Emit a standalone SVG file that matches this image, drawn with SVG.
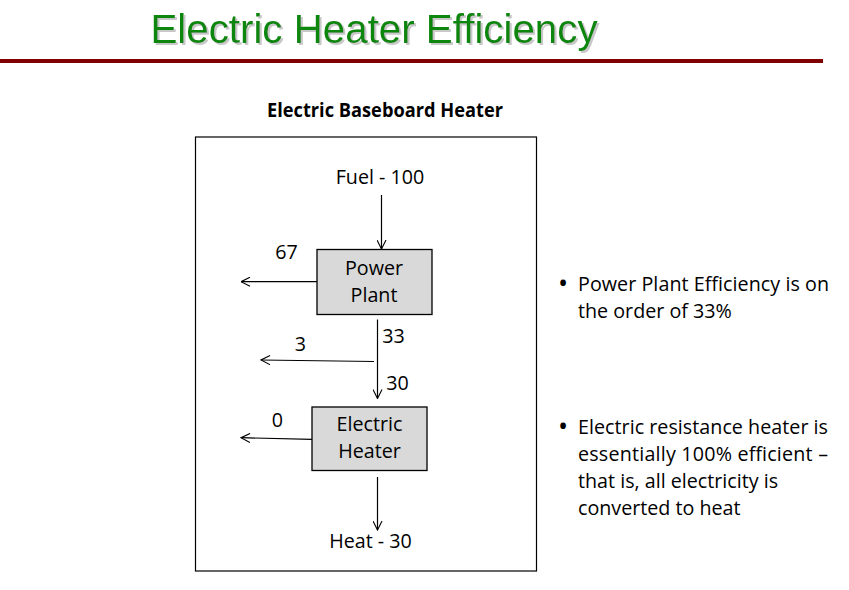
<svg xmlns="http://www.w3.org/2000/svg" width="849" height="590" viewBox="0 0 849 590">
  <style>
    .t { font-family: "Open Sans", "Noto Sans", sans-serif; font-size: 19.7px; fill: #000; }
    .c { text-anchor: middle; }
    .b { font-size: 27px; }
    .node rect { fill: #d9d9d9; stroke: #000; stroke-width: 1.3; }
    .conn line { stroke: #000; stroke-width: 1.2; marker-end: url(#arr); }
    .title { font-family: "Liberation Sans", Arial, sans-serif; font-size: 40.3px; text-anchor: middle; }
  </style>
  <defs>
    <marker id="arr" viewBox="0 0 10 10" refX="9.5" refY="5" markerWidth="10" markerHeight="10" markerUnits="userSpaceOnUse" orient="auto">
      <path d="M0.5,0.5 L9.5,5 L0.5,9.5" fill="none" stroke="#000" stroke-width="1.1"/>
    </marker>
    <filter id="shadow" x="-5%" y="-20%" width="110%" height="150%">
      <feOffset in="SourceAlpha" dx="2" dy="2" result="off"/>
      <feFlood flood-color="#c8c8c8"/>
      <feComposite in2="off" operator="in" result="sh"/>
      <feMerge>
        <feMergeNode in="sh"/>
        <feMergeNode in="SourceGraphic"/>
      </feMerge>
    </filter>
  </defs>
  <rect width="849" height="590" fill="#fff"/>

  <g id="title">
    <text class="title" x="374" y="43" fill="#0a860a" filter="url(#shadow)">Electric Heater Efficiency</text>
    <rect x="0" y="59" width="823" height="4" fill="#800000"/>
  </g>

  <g id="frame">
    <text class="t c" x="385" y="117" font-weight="bold" font-size="19" textLength="236" lengthAdjust="spacingAndGlyphs">Electric Baseboard Heater</text>
    <rect x="195.5" y="137" width="341" height="434" fill="none" stroke="#000" stroke-width="1.2"/>
  </g>

  <g id="fuel">
    <text class="t c" x="380" y="184">Fuel - 100</text>
  </g>

  <g id="power-plant" class="node">
    <rect x="317" y="249.5" width="115" height="65"/>
    <text class="t c" x="374" y="275">Power</text>
    <text class="t c" x="374" y="302">Plant</text>
  </g>

  <g id="electric-heater" class="node">
    <rect x="312" y="407" width="115" height="63.5"/>
    <text class="t c" x="369.5" y="431">Electric</text>
    <text class="t c" x="369.5" y="458">Heater</text>
  </g>

  <g id="heat">
    <text class="t c" x="370.5" y="548">Heat - 30</text>
  </g>

  <g id="connectors" class="conn">
    <line x1="381.5" y1="195" x2="381.5" y2="249"/>
    <line x1="317" y1="281.7" x2="241" y2="281.7"/>
    <line x1="377.5" y1="319.5" x2="377.5" y2="398.5"/>
    <line x1="374" y1="361.5" x2="261" y2="360"/>
    <line x1="312" y1="439.3" x2="241" y2="437.7"/>
    <line x1="377.5" y1="477" x2="377.5" y2="530"/>
  </g>

  <g id="flow-labels">
    <text class="t c" x="286.5" y="259">67</text>
    <text class="t c" x="393.5" y="343">33</text>
    <text class="t c" x="300.5" y="351">3</text>
    <text class="t c" x="397.5" y="390">30</text>
    <text class="t c" x="277.5" y="427">0</text>
  </g>

  <g id="bullets">
    <text class="t b" x="558" y="293">•</text>
    <text class="t" x="578" y="291" textLength="251">Power Plant Efficiency is on</text>
    <text class="t" x="578" y="318">the order of 33%</text>
    <text class="t b" x="558" y="436">•</text>
    <text class="t" x="578" y="434" textLength="250">Electric resistance heater is</text>
    <text class="t" x="578" y="461" textLength="250">essentially 100% efficient –</text>
    <text class="t" x="578" y="488">that is, all electricity is</text>
    <text class="t" x="578" y="515">converted to heat</text>
  </g>
</svg>
